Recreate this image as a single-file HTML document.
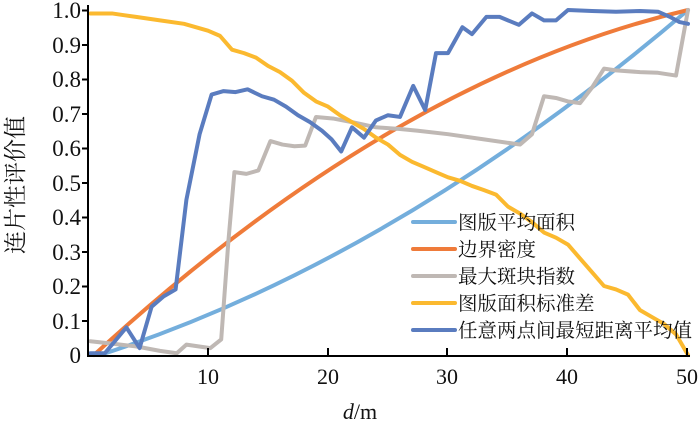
<!DOCTYPE html>
<html><head><meta charset="utf-8"><style>
body{margin:0;background:#fff;width:700px;height:426px;overflow:hidden}
svg text{font-family:"Liberation Serif","Noto Serif CJK SC",serif;fill:#111}
</style></head><body>
<svg width="700" height="426" viewBox="0 0 700 426" xmlns="http://www.w3.org/2000/svg">
<g fill="none" stroke-linejoin="round" stroke-linecap="round">
<g transform="translate(88,355) scale(12,-345)">
<path d="M1,0 Q25.5,0.275 50,1" stroke="#74aedc" stroke-width="4" vector-effect="non-scaling-stroke"/>
<path d="M0.5,0 Q25.5,0.8 50,1" stroke="#ef7b3a" stroke-width="4" vector-effect="non-scaling-stroke"/>
<polyline stroke="#bfb8b4" stroke-width="4" vector-effect="non-scaling-stroke" points="0.2,0.04 2,0.033 4,0.025 6,0.012 7.4,0.005 8.2,0.03 10.2,0.02 11.1,0.045 11.7,0.33 12.2,0.53 13.2,0.525 14.2,0.535 15.2,0.62 16.2,0.61 17.2,0.605 18.1,0.607 19,0.69 20.5,0.685 22,0.675 24,0.66 26,0.655 27.5,0.65 30,0.64 33,0.625 36,0.61 37,0.64 38,0.75 39,0.745 40,0.735 41,0.73 42,0.775 43,0.83 44,0.825 46,0.82 47.5,0.818 49,0.81 50,1.0"/>
<polyline stroke="#fbb92f" stroke-width="4" vector-effect="non-scaling-stroke" points="0.2,0.99 2,0.99 3,0.985 4,0.98 6,0.97 8,0.96 10,0.94 11,0.925 12,0.885 13,0.875 14,0.862 15,0.838 16,0.82 17,0.795 18,0.76 19,0.735 20,0.72 21,0.695 22,0.675 23,0.655 24,0.63 25,0.61 26,0.58 27,0.56 28,0.545 29,0.53 30,0.515 31,0.505 32,0.49 33,0.478 34,0.465 35,0.43 36,0.41 37,0.385 38,0.355 39,0.34 40,0.32 41,0.28 42,0.24 43,0.2 44,0.19 45,0.175 46,0.13 47,0.11 48,0.09 49,0.06 50,0"/>
<polyline stroke="#5a7cbf" stroke-width="4" vector-effect="non-scaling-stroke" points="0.2,0.005 1.4,0.005 3.2,0.08 4.3,0.02 5.3,0.14 6.3,0.17 7.3,0.19 8.2,0.45 9.3,0.64 10.3,0.755 11.3,0.765 12.3,0.762 13.3,0.77 14.5,0.75 15.5,0.74 16.5,0.72 17.5,0.695 18.5,0.675 19.5,0.65 20.3,0.625 21.1,0.59 22,0.66 23,0.63 24,0.68 25,0.695 26,0.69 27.1,0.78 28.1,0.71 29,0.875 30,0.875 31.2,0.95 32,0.93 33.2,0.98 34.3,0.98 35.9,0.957 37,0.99 38,0.97 39,0.97 40,1.0 42,0.997 44,0.995 46,0.997 47.5,0.995 48.5,0.98 49.3,0.965 50,0.96"/>
</g>
</g>
<g stroke="#000" stroke-width="2" fill="none">
<path d="M88,5 V356 H690"/>
<path d="M82,10.5 H88 M82,45 H88 M82,79.5 H88 M82,114 H88 M82,148.5 H88 M82,183 H88 M82,217.5 H88 M82,252 H88 M82,286.5 H88 M82,321 H88"/>
<path d="M208,356 V348 M328,356 V348 M447,356 V348 M567,356 V348 M687,356 V348"/>
</g>
<g font-size="23" text-anchor="end">
<text x="81" y="18">1.0</text><text x="81" y="53">0.9</text><text x="81" y="87">0.8</text><text x="81" y="122">0.7</text><text x="81" y="156">0.6</text><text x="81" y="191">0.5</text><text x="81" y="225">0.4</text><text x="81" y="260">0.3</text><text x="81" y="294">0.2</text><text x="81" y="329">0.1</text><text x="81" y="363">0</text>
</g>
<g font-size="22" text-anchor="middle">
<text x="208" y="384">10</text><text x="328" y="384">20</text><text x="447" y="384">30</text><text x="567" y="384">40</text><text x="687" y="384">50</text>
<text x="360" y="419"><tspan font-style="italic">d</tspan>/m</text>
</g>
<text x="0" y="0" font-size="23" text-anchor="middle" transform="translate(23,185) rotate(-90)">连片性评价值</text>
<g stroke-width="4" stroke-linecap="round">
<line x1="413" y1="222" x2="455" y2="222" stroke="#74aedc"/>
<line x1="413" y1="249" x2="455" y2="249" stroke="#ef7b3a"/>
<line x1="413" y1="276" x2="455" y2="276" stroke="#bfb8b4"/>
<line x1="413" y1="303" x2="455" y2="303" stroke="#fbb92f"/>
<line x1="413" y1="330" x2="455" y2="330" stroke="#5a7cbf"/>
</g>
<g font-size="19.5">
<text x="458" y="229">图版平均面积</text>
<text x="458" y="256">边界密度</text>
<text x="458" y="283">最大斑块指数</text>
<text x="458" y="310">图版面积标准差</text>
<text x="458" y="337">任意两点间最短距离平均值</text>
</g>
</svg>
</body></html>
